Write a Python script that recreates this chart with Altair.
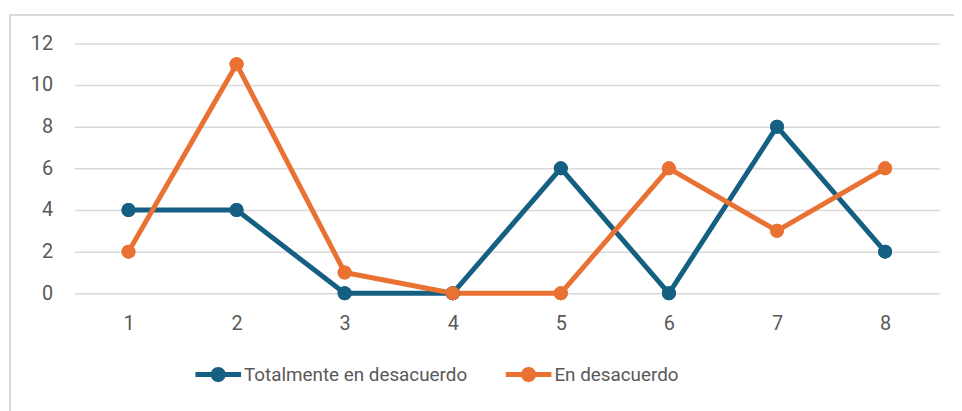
import altair as alt
import pandas as pd

categories = ["1", "2", "3", "4", "5", "6", "7", "8"]
series_names = ["Totalmente en desacuerdo", "En desacuerdo"]
totalmente = [4, 4, 0, 0, 6, 0, 8, 2]
desacuerdo = [2, 11, 1, 0, 0, 6, 3, 6]
colors = ["#156082", "#E97132"]
y_ticks = [0, 2, 4, 6, 8, 10, 12]

rows = []
for c, v in zip(categories, totalmente):
    rows.append({"cat": c, "series": series_names[0], "value": v})
for c, v in zip(categories, desacuerdo):
    rows.append({"cat": c, "series": series_names[1], "value": v})
df = pd.DataFrame(rows)

FONT = "Roboto"
TEXT = "#595959"
GRID = "#d9d9d9"

x_enc = alt.X("cat:N", sort=categories, title=None,
              scale=alt.Scale(paddingInner=0, paddingOuter=0.5),
              axis=alt.Axis(labelAngle=0, ticks=False, domain=False, labelPadding=21))
y_enc = alt.Y("value:Q", title=None,
              scale=alt.Scale(domain=[0, 12], nice=False),
              axis=alt.Axis(values=y_ticks, ticks=False, domain=False, labelPadding=22,
                            gridColor=GRID, gridWidth=1.5))

scale = alt.Scale(domain=series_names, range=colors)

# legend glyph: a short thick line with a solid dot, both filled (same winding)
sym = ("M-1,-0.11L1,-0.11L1,0.11L-1,0.11Z"
       "M-0.33,0A0.33,0.33,0,1,1,0.33,0A0.33,0.33,0,1,1,-0.33,0Z")

legend = alt.Legend(orient="none", direction="horizontal",
                    legendX=122, legendY=311,
                    symbolType=sym, symbolSize=2116,
                    symbolOpacity=1, symbolStrokeWidth=0,
                    labelOffset=3, columnPadding=38, labelLimit=400)
color_enc = alt.Color("series:N", scale=scale, title=None, legend=legend)

points_under = alt.Chart(df).mark_point(filled=True, size=200, opacity=1).encode(
    x=x_enc, y=y_enc, color=color_enc,
)
lines = alt.Chart(df).mark_line(strokeWidth=5).encode(
    x=x_enc, y=y_enc, color=color_enc,
)
points = alt.Chart(df).mark_point(filled=True, size=200, opacity=1).encode(
    x=x_enc, y=y_enc, color=color_enc,
)

border_top = alt.Chart(df).mark_rule(color=GRID, strokeWidth=1.5).encode(
    x=alt.value(-65), x2=alt.value(900), y=alt.value(-29))
border_left = alt.Chart(df).mark_rule(color=GRID, strokeWidth=1.5).encode(
    x=alt.value(-65), y=alt.value(-29), y2=alt.value(400))

chart = alt.layer(points_under, border_top, border_left, lines, points).properties(
    width=872, height=252,
    autosize=alt.AutoSizeParams(type="none"),
    padding={"left": 67, "top": 34, "right": 15, "bottom": 117},
    background="white",
).configure_view(stroke=None).configure_axis(
    labelFontSize=20, labelColor=TEXT, labelFont=FONT
).configure_legend(
    labelFontSize=19, labelColor=TEXT, labelFont=FONT
)

chart.save("out.html", embed_options={"renderer": "svg", "actions": False})
